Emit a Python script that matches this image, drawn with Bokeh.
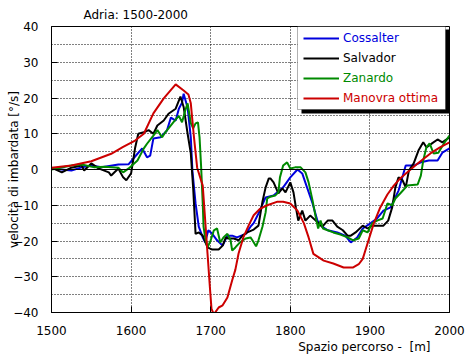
from bokeh.plotting import figure
from bokeh.models import (Range1d, SingleIntervalTicker, Span, Title, BoxAnnotation,
                          Legend, LegendItem)
from bokeh.embed import file_html
from bokeh.resources import INLINE

FONT = "DejaVu Sans"

# ---- data ----
cossalter_x = [1500, 1525, 1538, 1550, 1563, 1584, 1597, 1608, 1614, 1620, 1624, 1628, 1637, 1645,
               1650, 1656, 1660, 1664, 1666, 1671, 1675, 1677, 1681, 1685, 1690, 1693, 1697, 1702,
               1708, 1715, 1721, 1727, 1733, 1744, 1750, 1754, 1760, 1769, 1779, 1791, 1800, 1809,
               1815, 1821, 1828, 1834, 1840, 1847, 1859, 1869, 1876, 1884, 1891, 1901, 1909, 1917,
               1926, 1936, 1945, 1955, 1964, 1974, 1985, 1991, 2000]
cossalter_y = [0.3, -0.3, 0.6, 1.1, 0.6, 1.4, 1.5, 4.4, 5.9, 3.4, 3.9, 8.7, 9.0, 10.9,
               14.5, 13.7, 17.0, 18.7, 21.2, 17.3, 9.0, -0.3, -9.5, -16.0, -19.0, -20.4, -17.0, -18.0,
               -19.8, -21.3, -18.5, -18.5, -19.0, -18.0, -16.0, -15.0, -12.3, -7.8, -7.3, -5.0, -2.2, 0.0,
               -1.1, -5.0, -9.5, -14.3, -16.0, -17.0, -17.6, -18.5, -20.4, -19.0, -16.5, -15.0, -13.7, -11.5,
               -10.6, -5.9, 1.1, 1.1, 2.0, 2.5, 2.5, 4.7, 5.9]

salvador_x = [1500, 1513, 1525, 1538, 1541, 1550, 1559, 1572, 1575, 1584, 1590, 1594, 1600, 1605,
              1609, 1616, 1622, 1628, 1633, 1641, 1647, 1656, 1662, 1666, 1671, 1675, 1678, 1679,
              1681, 1685, 1690, 1696, 1702, 1710, 1715, 1719, 1722, 1729, 1735, 1740, 1746, 1754,
              1760, 1765, 1769, 1773, 1775, 1779, 1785, 1790, 1794, 1800, 1804, 1807, 1810, 1815,
              1819, 1825, 1832, 1840, 1847, 1853, 1859, 1866, 1872, 1876, 1882, 1891, 1897, 1903,
              1917, 1923, 1928, 1932, 1936, 1941, 1945, 1949, 1955, 1961, 1967, 1971, 1978, 1985,
              1991, 2000]
salvador_y = [0.5, -0.8, 0.5, 1.1, -0.3, 1.7, 0.3, -0.8, -1.7, 0.3, -2.2, -3.0, -1.1, 6.0,
              10.0, 10.4, 11.0, 10.0, 12.3, 13.7, 15.6, 17.0, 20.4, 17.5, 10.0, 4.5, -5.3, -9.5,
              -18.0, -17.6, -18.5, -21.8, -22.4, -22.4, -21.3, -19.0, -19.3, -19.3, -19.8, -18.5, -17.6, -16.8,
              -15.7, -9.0, -5.0, -2.5, -2.5, -3.6, -6.7, -5.3, -6.4, -3.6, -6.4, -10.6, -14.3, -11.5,
              -14.3, -12.9, -14.3, -16.0, -14.3, -14.3, -16.0, -17.0, -18.5, -18.5, -17.6, -15.7, -16.5, -15.7,
              -15.7, -14.3, -10.6, -5.0, -2.2, -3.0, -5.0, -0.3, 1.7, 5.3, 7.6, 6.2, 7.3, 8.4,
              7.6, 9.0]

zanardo_x = [1500, 1525, 1538, 1554, 1567, 1584, 1590, 1597, 1608, 1616, 1620, 1628, 1633, 1639,
             1643, 1653, 1660, 1664, 1668, 1671, 1675, 1678, 1681, 1684, 1686, 1688, 1690, 1691,
             1693, 1696, 1700, 1704, 1708, 1712, 1716, 1721, 1725, 1727, 1731, 1737, 1744, 1750,
             1753, 1757, 1760, 1765, 1769, 1771, 1775, 1781, 1785, 1787, 1791, 1796, 1800, 1806,
             1813, 1819, 1823, 1828, 1832, 1835, 1838, 1841, 1847, 1854, 1863, 1872, 1879, 1886,
             1891, 1897, 1903, 1909, 1916, 1922, 1928, 1932, 1938, 1947, 1960, 1964, 1967, 1971,
             1975, 1980, 1986, 1993, 2000]
zanardo_y = [0.0, 1.1, 1.4, 0.6, 0.8, 0.5, -0.8, 0.3, 2.5, 5.9, 7.2, 9.5, 11.0, 9.0,
             10.4, 13.2, 15.0, 13.2, 16.5, 18.5, 13.0, 11.5, 12.9, 13.2, 9.0, 0.6, -9.5, -16.0,
             -19.0, -21.8, -19.8, -17.0, -16.5, -20.4, -19.0, -18.0, -19.8, -22.7, -21.8, -20.3, -19.3, -19.0,
             -20.0, -21.5, -19.8, -16.0, -12.0, -8.1, -7.6, -7.3, -6.4, -2.2, 1.1, 2.0, 0.3, 0.6,
             0.6, -0.8, -3.6, -8.7, -13.4, -16.5, -14.3, -16.5, -17.0, -17.6, -18.2, -19.0, -19.8, -19.3,
             -17.0, -17.6, -15.0, -14.3, -13.7, -9.5, -10.0, -8.1, -6.7, -4.5, -4.2, -1.7, 2.5, 6.2,
             7.3, 4.5, 4.7, 7.3, 9.5]

ottima_x = [1500, 1525, 1550, 1575, 1590, 1605, 1616, 1628, 1641, 1656, 1666, 1672, 1675, 1679,
            1683, 1690, 1693, 1696, 1699, 1701, 1704, 1710, 1715, 1721, 1727, 1731, 1735, 1741,
            1748, 1754, 1762, 1771, 1784, 1791, 1800, 1809, 1817, 1823, 1829, 1842, 1854, 1867,
            1879, 1886, 1891, 1897, 1905, 1913, 1922, 1930, 1938, 1947, 1960, 1976, 1988, 2000]
ottima_y = [0.5, 1.1, 2.3, 4.4, 6.3, 8.1, 10.0, 15.7, 19.9, 23.8, 22.1, 21.0, 18.5, 9.0,
            0.5, -4.5, -14.0, -23.5, -33.0, -39.0, -40.5, -38.6, -38.0, -35.8, -31.0, -28.0, -23.5, -19.0,
            -15.5, -12.8, -11.0, -10.0, -9.0, -9.0, -9.5, -11.5, -15.0, -19.0, -23.6, -25.5, -26.3, -27.4,
            -27.4, -26.5, -25.0, -20.7, -15.0, -10.6, -7.0, -4.5, -2.5, -0.8, 1.7, 4.5, 6.2, 7.6]

series_names = ["Cossalter", "Salvador", "Zanardo", "Manovra ottima"]
series_colors = ["#0000dd", "#000000", "#008a00", "#cc0000"]
series_x = [cossalter_x, salvador_x, zanardo_x, ottima_x]
series_y = [cossalter_y, salvador_y, zanardo_y, ottima_y]

title_text = "Adria: 1500-2000"
x_label = "Spazio percorso - \u00a0[m]"
y_label = "velocità di imbardata [°/s]"

# ---- figure ----
p = figure(width=467, height=357, output_backend="svg", toolbar_location=None, title=None,
           x_range=Range1d(1500, 2000), y_range=Range1d(-40, 40),
           min_border_left=51, min_border_right=18, min_border_top=26, min_border_bottom=45)
p.background_fill_color = "white"
p.border_fill_color = "white"
p.outline_line_color = "black"
p.outline_line_width = 1

p.xaxis.ticker = SingleIntervalTicker(interval=100)
p.yaxis.ticker = SingleIntervalTicker(interval=10)
p.xgrid.ticker = SingleIntervalTicker(interval=100)
p.ygrid.ticker = SingleIntervalTicker(interval=5)

for ax in (p.xaxis, p.yaxis):
    ax.axis_line_color = "black"
    ax.major_tick_line_color = "black"
    ax.major_tick_in = 6
    ax.major_tick_out = 0
    ax.minor_tick_line_color = None
    ax.major_label_text_font = FONT
    ax.major_label_text_font_size = "12px"
    ax.major_label_text_color = "black"
    ax.major_label_standoff = 9

p.yaxis.axis_label = y_label
p.yaxis.axis_label_text_font = FONT
p.yaxis.axis_label_text_font_size = "12px"
p.yaxis.axis_label_text_font_style = "normal"
p.yaxis.axis_label_text_color = "black"
p.yaxis.axis_label_standoff = -11

p.grid.grid_line_color = "black"
p.grid.grid_line_dash = "1 2"
p.grid.grid_line_width = 1

p.add_layout(Span(location=0, dimension="width", line_color="black", line_width=1))

renderers = []
for xs, ys, c in zip(series_x, series_y, series_colors):
    r = p.line(xs, ys, line_color=c, line_width=2)
    renderers.append(r)

# title (above, left) and x label (below, right)
p.add_layout(Title(text=title_text, align="left", offset=32, standoff=10,
                   text_font=FONT, text_font_size="12px", text_font_style="normal",
                   text_color="black"), "above")
p.add_layout(Title(text=x_label, align="right", offset=19, standoff=0,
                   text_font=FONT, text_font_size="12px", text_font_style="normal",
                   text_color="black"), "below")

# legend box with shadow
p.add_layout(BoxAnnotation(left=250, right=398, top=283, bottom=199,
                           left_units="screen", right_units="screen",
                           top_units="screen", bottom_units="screen",
                           fill_color="black", fill_alpha=1, line_color=None))
p.add_layout(BoxAnnotation(left=246, right=394, top=286, bottom=203,
                           left_units="screen", right_units="screen",
                           top_units="screen", bottom_units="screen",
                           fill_color="white", fill_alpha=1, line_color="black", line_width=1))

for i, (name, r, c) in enumerate(zip(series_names, renderers, series_colors)):
    leg = Legend(items=[LegendItem(label=name, renderers=[r])],
                 location=(252, 264 - 20 * i), padding=0, margin=0, spacing=0,
                 glyph_width=36, glyph_height=20, label_height=20, label_standoff=4,
                 label_text_color=c, label_text_font=FONT, label_text_font_size="12px",
                 border_line_color=None, background_fill_alpha=0)
    p.add_layout(leg)

open("out.html", "w").write(file_html(p, INLINE))
